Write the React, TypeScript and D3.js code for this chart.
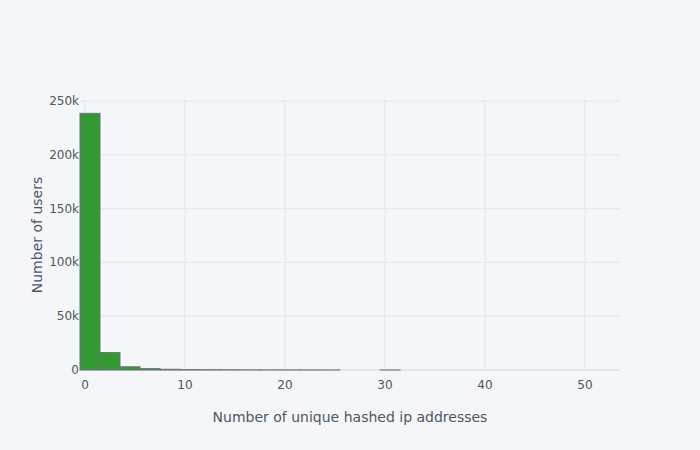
import React from "react";
import * as d3 from "d3";

const binStarts = [-0.5, 1.5, 3.5, 5.5, 7.5, 9.5, 11.5, 13.5, 15.5, 17.5, 19.5, 21.5, 23.5, 25.5, 27.5, 29.5];
const binCounts = [238600, 16200, 3000, 1300, 650, 420, 300, 220, 160, 120, 90, 70, 50, 0, 0, 40];
const binWidth = 2;
const xTicks = [0, 10, 20, 30, 40, 50];
const yTicks = [0, 50000, 100000, 150000, 200000, 250000];
const yTickLabels = ["0", "50k", "100k", "150k", "200k", "250k"];
const xTitle = "Number of unique hashed ip addresses";
const yTitle = "Number of users";

export default function App() {
  const W = 700, H = 450;
  const L = 80, R = 620, T = 100, B = 370;
  const x = d3.scaleLinear().domain([-0.5, 53.5]).range([L, R]);
  const y = d3.scaleLinear().domain([0, 251000]).range([B, T]);
  const font = "'DejaVu Sans', Verdana, sans-serif";
  const txt = "#4D5663";
  const grid = "#E1E5ED";
  return (
    <svg width={W} height={H} style={{ position: "absolute", left: 0, top: 0, display: "block" }}>
      <rect x={0} y={0} width={W} height={H} fill="#F5F6F9" />
      {yTicks.slice(1).map((t) => (
        <line key={"gy" + t} x1={L} x2={R} y1={y(t)} y2={y(t)} stroke={grid} strokeWidth={1} />
      ))}
      {xTicks.map((t) => (
        <line key={"gx" + t} x1={x(t)} x2={x(t)} y1={T} y2={B} stroke={grid} strokeWidth={1} />
      ))}
      <line x1={L} x2={R} y1={y(0)} y2={y(0)} stroke={grid} strokeWidth={2} />
      {binStarts.map((s, i) =>
        binCounts[i] > 0 ? (
          <rect
            key={"b" + i}
            x={x(s)}
            y={y(binCounts[i])}
            width={x(s + binWidth) - x(s)}
            height={Math.max(0, y(0) - y(binCounts[i]))}
            fill="#339933"
            stroke="#6f7378"
            strokeWidth={1}
          />
        ) : null
      )}
      {xTicks.map((t) => (
        <text key={"tx" + t} x={x(t)} y={B + 19} textAnchor="middle" fontFamily={font} fontSize={12} fill={txt}>
          {t}
        </text>
      ))}
      {yTicks.map((t, i) => (
        <text key={"ty" + t} x={L - 1} y={y(t) + 4} textAnchor="end" fontFamily={font} fontSize={12} fill={txt}>
          {yTickLabels[i]}
        </text>
      ))}
      <text x={(L + R) / 2} y={422} textAnchor="middle" fontFamily={font} fontSize={14} fill={txt}>
        {xTitle}
      </text>
      <text
        transform={`translate(42,${(T + B) / 2}) rotate(-90)`}
        textAnchor="middle"
        fontFamily={font}
        fontSize={14}
        fill={txt}
      >
        {yTitle}
      </text>
    </svg>
  );
}
